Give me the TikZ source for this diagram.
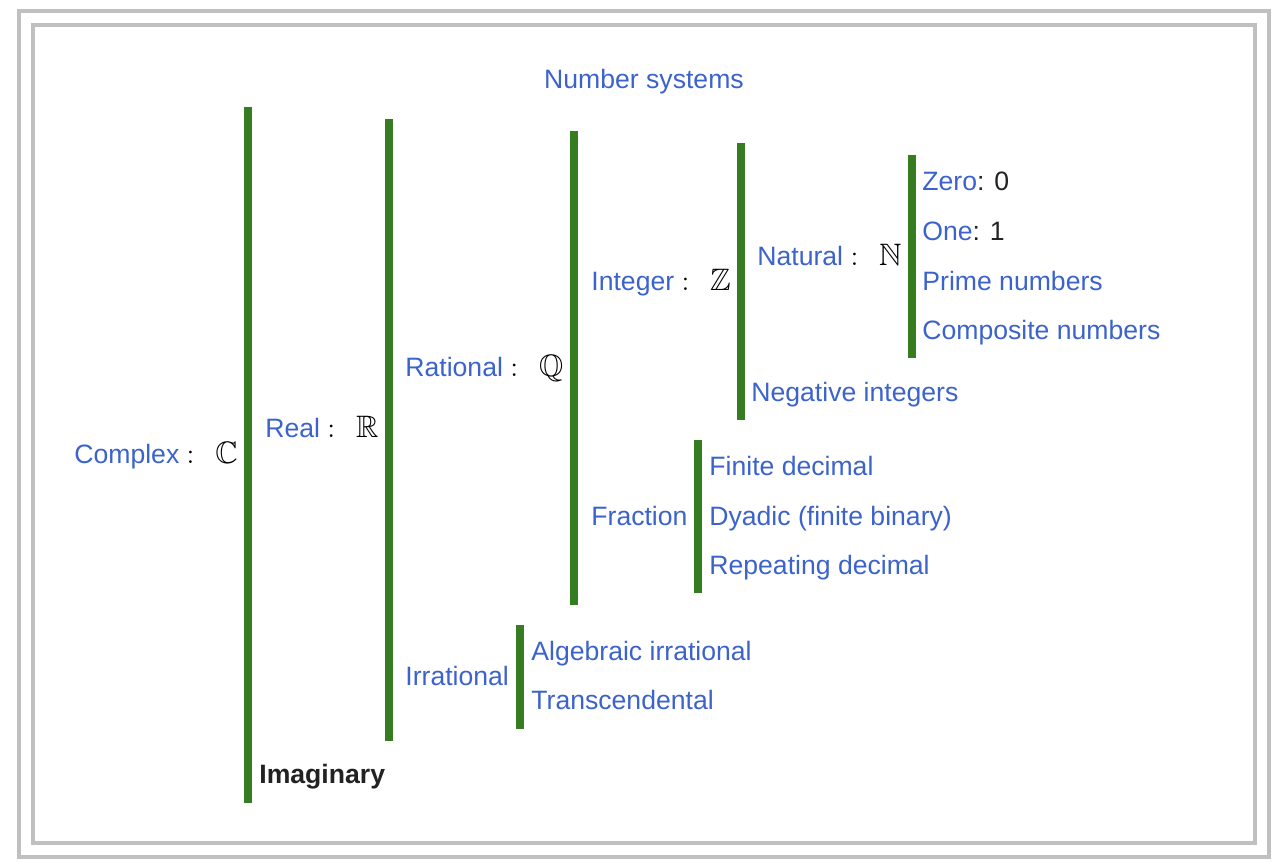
\documentclass[tikz,border=0pt]{standalone}
\usepackage{amsmath,amssymb}
\usepackage{fontspec}
\setmainfont{Liberation Sans}
\usepackage{xcolor}
\usepackage{tikz}
\definecolor{linkblue}{HTML}{3C63CC}
\definecolor{bargreen}{HTML}{367D22}
\definecolor{framegray}{HTML}{C0C0C0}
\definecolor{inkdark}{HTML}{222222}
\tikzset{lbl/.style={anchor=base west,inner sep=0pt,font=\fontsize{13.3}{16}\selectfont,text=linkblue}}
\newcommand{\setsym}[1]{\textcolor{black}{\fontsize{15.5}{18}\selectfont$:\;\,\mathbb{#1}$}}

\begin{document}
\begin{tikzpicture}[x=0.5pt,y=-0.5pt]
\useasboundingbox (0,0) rectangle (1282,862);
\draw[framegray,line width=2pt] (19,11) rectangle (1269,857);
\draw[framegray,line width=2pt] (33,25) rectangle (1255,843);
% green brackets: x / top / bottom
\foreach \xx/\ya/\yb in {248/107/803,389/119/741,574/131/605,741/143/420,912/155/358,698/440/593,520/625/729}{
  \fill[bargreen] (\xx-4,\ya) rectangle (\xx+4,\yb);}
\node[lbl,anchor=base] (title) at (644,88) {Number systems};
\node[lbl] (complex) at (74,463) {Complex \setsym{C}};
\node[lbl] (real) at (265,437) {Real \setsym{R}};
\node[lbl,text=inkdark,font=\fontsize{13.3}{16}\selectfont\bfseries] (imag) at (259,783) {Imaginary};
\node[lbl] (rational) at (405,376) {Rational \setsym{Q}};
\node[lbl] (irrational) at (405,685) {Irrational};
\node[lbl] (integer) at (591,290) {Integer \setsym{Z}};
\node[lbl] (fraction) at (591,525) {Fraction};
\node[lbl] (natural) at (757,265) {Natural \setsym{N}};
\node[lbl] (negint) at (751,401) {Negative integers};
\node[lbl] (zero) at (922,190) {Zero\textcolor{inkdark}{: 0}};
\node[lbl] (one) at (922,240) {One\textcolor{inkdark}{: 1}};
\foreach \nm/\yy/\txt in {prime/290/Prime numbers,composite/339/Composite numbers}{
  \node[lbl] (\nm) at (922,\yy) {\txt};}
\foreach \nm/\yy/\txt in {finite/475/Finite decimal,dyadic/525/Dyadic (finite binary),repeating/574/Repeating decimal}{
  \node[lbl] (\nm) at (709,\yy) {\txt};}
\foreach \nm/\yy/\txt in {algebraic/660/Algebraic irrational,transc/709/Transcendental}{
  \node[lbl] (\nm) at (531,\yy) {\txt};}
\end{tikzpicture}
\end{document}
